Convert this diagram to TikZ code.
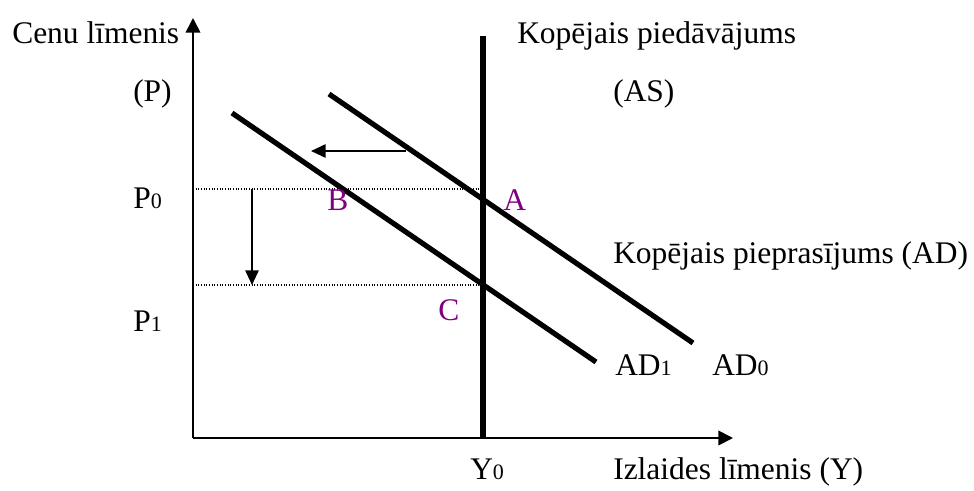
\documentclass[tikz,border=0pt]{standalone}
\usepackage{fontspec}
\setmainfont{Liberation Serif}
\usetikzlibrary{arrows.meta}
\definecolor{lbl}{RGB}{128,0,128}
\newcommand{\sbs}[1]{{\fontsize{16.5pt}{17pt}\selectfont #1}}
\tikzset{
  txt/.style={anchor=base west,inner sep=0pt,font=\fontsize{23.6pt}{26pt}\selectfont},
  ptlabel/.style={txt,text=lbl},
  axisline/.style={line width=1.3pt,-{Triangle[length=11pt,width=11pt]}},
  curveline/.style={line width=3.9pt},
  shiftarrow/.style={line width=1.3pt,-{Triangle[length=11pt,width=10pt]}},
  guideline/.style={line width=0.8pt,dash pattern=on 0.8pt off 1.2pt}
}
\begin{document}
\begin{tikzpicture}[x=0.75pt,y=-0.75pt]
\useasboundingbox (0,0) rectangle (974,490);
% coordinates
\coordinate (O) at (193,438);
\coordinate (Ytop) at (193,18);
\coordinate (Xend) at (733,438);
\coordinate (AStop) at (483,36);
\coordinate (ASbot) at (483,438);
\coordinate (AD0s) at (329,94);
\coordinate (AD0e) at (693,343);
\coordinate (AD1s) at (232,113);
\coordinate (AD1e) at (596,362);
\coordinate (P0l) at (193,189);
\coordinate (P0r) at (481,189);
\coordinate (P1l) at (193,285);
\coordinate (P1r) at (481,285);
\coordinate (LAs) at (406,151);
\coordinate (LAe) at (311,151);
\coordinate (DAs) at (252,189);
\coordinate (DAe) at (252,285);
% lines
\draw[guideline] (P0l) -- (P0r);
\draw[guideline] (P1l) -- (P1r);
\draw[axisline] (O) -- (Ytop);
\draw[axisline] (O) -- (Xend);
\draw[curveline] (AStop) -- (ASbot);
\draw[curveline] (AD0s) -- (AD0e);
\draw[curveline] (AD1s) -- (AD1e);
\draw[shiftarrow] (LAs) -- (LAe);
\draw[shiftarrow] (DAs) -- (DAe);
% labels
\node[txt] (cenu) at (12,43) {Cenu līmenis};
\node[txt] (pp) at (133,101) {(P)};
\node[txt] (kas) at (517,43) {Kopējais piedāvājums};
\node[txt] (as) at (613,101) {(AS)};
\node[txt] (p0) at (133,208) {P\sbs{0}};
\node[txt] (p1) at (133,331) {P\sbs{1}};
\node[ptlabel] (la) at (503,210) {A};
\node[ptlabel] (lb) at (327,210) {B};
\node[ptlabel] (lc) at (438,320) {C};
\node[txt] (kad) at (613,263) {Kopējais pieprasījums (AD)};
\node[txt] (ad1) at (615,375) {AD\sbs{1}};
\node[txt] (ad0) at (712,375) {AD\sbs{0}};
\node[txt] (y0) at (470,479) {Y\sbs{0}};
\node[txt] (izl) at (613,479) {Izlaides līmenis (Y)};
\end{tikzpicture}
\end{document}
